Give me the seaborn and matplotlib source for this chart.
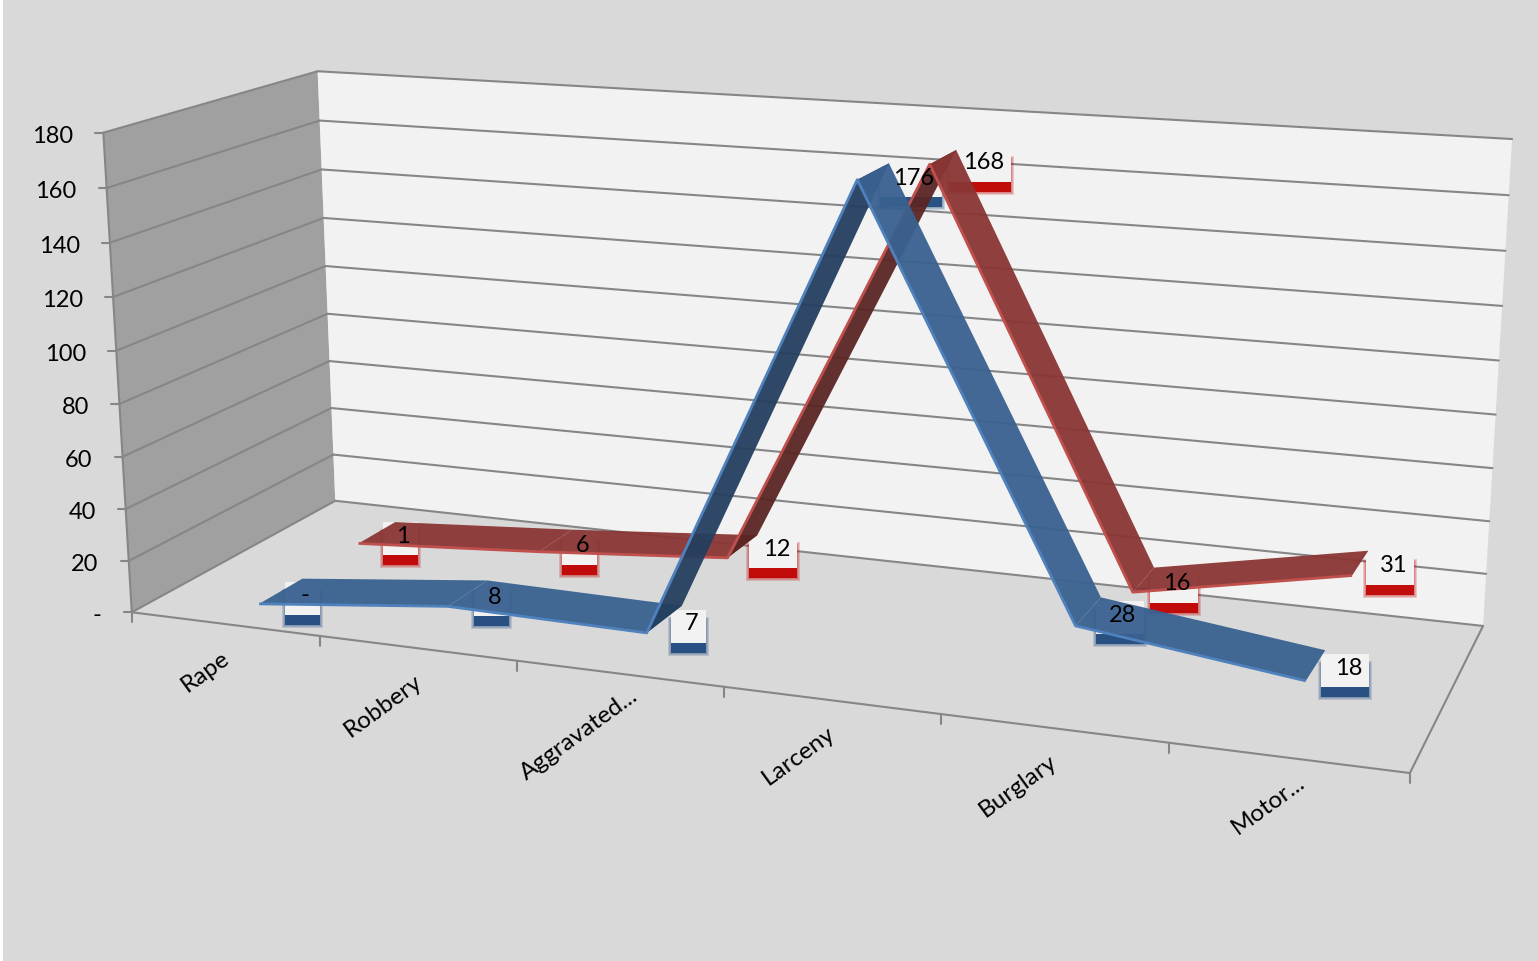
import numpy as np
import pandas as pd
import seaborn as sns
import matplotlib.pyplot as plt
from matplotlib.patches import Rectangle

# Values
categories = ['Rape', 'Robbery', 'Aggravated...', 'Larceny', 'Burglary', 'Motor...']
front_series = [0, 8, 7, 176, 28, 18]
back_series = [1, 6, 12, 168, 16, 31]
front_labels = ['-', '8', '7', '176', '28', '18']
back_labels = ['1', '6', '12', '168', '16', '31']
value_ticks = [0, 20, 40, 60, 80, 100, 120, 140, 160, 180]
value_tick_labels = ['-', '20', '40', '60', '80', '100', '120', '140', '160', '180']

# Box corners on the picture, (u, v, w) -> pixel, used to fit the camera
box_corners = [
    ((0, 0, 0), (132, 612)), ((0, 1, 0), (103, 133)),
    ((0, 1, 1), (318, 71)), ((0, 0, 1), (335, 501)),
    ((1, 0, 1), (1483, 626)), ((1, 1, 1), (1512, 139)),
    ((1, 0, 0), (1410, 773)),
]


def fit_camera(corners):
    rows = []
    for (u, v, w), (px, py) in corners:
        rows.append([u, v, w, 1, 0, 0, 0, 0, -px * u, -px * v, -px * w, -px])
        rows.append([0, 0, 0, 0, u, v, w, 1, -py * u, -py * v, -py * w, -py])
    return np.linalg.svd(np.array(rows, dtype=float))[2][-1].reshape(3, 4)


camera = fit_camera(box_corners)


def project(u, value, w):
    p = camera @ np.array([u, value / 180, w, 1.0])
    return p[0] / p[2], p[1] / p[2]


def cat_u(i):
    return (i + 0.5) / len(categories)


sns.set_theme(style='white')
plt.rcParams['font.family'] = ['Lato', 'DejaVu Sans']

fig = plt.figure(figsize=(15.38, 9.61), dpi=100, facecolor='white')
ax = fig.add_axes([0, 0, 1, 1])
ax.add_patch(Rectangle((3, 0), 1535, 961, color='#D9D9D9', lw=0, zorder=0))

GRID = '#868686'

# walls
ax.fill(*zip(project(0, 0, 0), project(0, 180, 0), project(0, 180, 1), project(0, 0, 1)),
        color='#A0A0A0', lw=0, zorder=1)
ax.fill(*zip(project(0, 0, 1), project(0, 180, 1), project(1, 180, 1), project(1, 0, 1)),
        color='#F2F2F2', lw=0, zorder=1)

# gridlines, box edges and tick marks
rows = []
def add_line(name, a, b):
    rows.append({'line': name, 'order': 0, 'sx': a[0], 'sy': a[1]})
    rows.append({'line': name, 'order': 1, 'sx': b[0], 'sy': b[1]})


for t in value_ticks:
    add_line(f'left{t}', project(0, t, 0), project(0, t, 1))
    add_line(f'back{t}', project(0, t, 1), project(1, t, 1))
    fx, fy = project(0, t, 0)
    add_line(f'vtick{t}', (fx - 8, fy), (fx, fy))
    ax.text(fx - 30, fy + 3.5, value_tick_labels[t // 20], ha='right', va='center',
            fontsize=17, color='black')
add_line('front', project(0, 0, 0), project(1, 0, 0))
add_line('side', project(1, 0, 0), project(1, 0, 1))
add_line('corner', project(0, 0, 0), project(0, 180, 0))
for i in range(len(categories) + 1):
    fx, fy = project(i / len(categories), 0, 0)
    add_line(f'ctick{i}', (fx, fy), (fx, fy + 10))
frame = pd.DataFrame(rows)
sns.lineplot(data=frame, x='sx', y='sy', units='line', estimator=None, sort=False,
             color=GRID, lw=1.5, ax=ax, zorder=1.5)

# the two cut-off names sit a bit further along their slant
name_nudges = [(2, 32), (3, 31), (17, 20), (2, 31), (1, 31), (15, 22)]
for i, name in enumerate(categories):
    fx, fy = project(cat_u(i), 0, 0)
    ax.text(fx + name_nudges[i][0], fy + name_nudges[i][1], name, rotation=36,
            rotation_mode='anchor', ha='right', va='center', fontsize=17.5, color='black')


def label_box(cx, cy, text, shadow):
    half = {1: 17.5, 2: 24, 3: 31}[len(text)]
    cx = cx - 3  # the number sits right of the box centre
    # soft glow, then the solid strip that shows under the box
    for grow in (3, 2, 1):
        ax.add_patch(Rectangle((cx - half - grow, cy - 14 + 10 - grow), 2 * half + 2 * grow,
                               33 + 2 * grow, color=shadow, alpha=0.18, lw=0, zorder=2))
    ax.add_patch(Rectangle((cx - half, cy - 14 + 10), 2 * half, 33, color=shadow, alpha=0.9,
                           lw=0, zorder=2))
    ax.add_patch(Rectangle((cx - half, cy - 14), 2 * half, 33, color='#F2F2F2', lw=0, zorder=2.1))


def draw_series(values, labels, w0, w1, top, under, edge, shadow, nudges):
    for i, (val, text) in enumerate(zip(values, labels)):
        bx, by = project(cat_u(i), val, w1)
        cx, cy = bx + nudges[i][0], by + nudges[i][1]
        label_box(cx, cy, text, shadow)
        ax.text(cx, cy, text, ha='center', va='center', fontsize=17, color='black', zorder=5)
    for i in range(len(values) - 1):
        quad = [project(cat_u(i), values[i], w0), project(cat_u(i + 1), values[i + 1], w0),
                project(cat_u(i + 1), values[i + 1], w1), project(cat_u(i), values[i], w1)]
        xs, ys = zip(*quad)
        # seen from below when the quad flips on screen
        area = sum(xs[k] * ys[(k + 1) % 4] - xs[(k + 1) % 4] * ys[k] for k in range(4))
        ax.fill(xs, ys, color=top if area < 0 else under, alpha=0.95, lw=0, zorder=3)
    edge_pts = [project(cat_u(i), v, w0) for i, v in enumerate(values)]
    edges = pd.DataFrame({'sx': [p[0] for p in edge_pts], 'sy': [p[1] for p in edge_pts]})
    sns.lineplot(data=edges, x='sx', y='sy', estimator=None, sort=False, color=edge, lw=2.0,
                 solid_capstyle='butt', ax=ax, zorder=3)


back_nudges = [(8, 14), (10, 16), (19, 14), (27, 13), (23, 16), (25, 15)]
front_nudges = [(3, 17), (7, 17), (10, 18), (25, 15), (22, 18), (23, 18)]
draw_series(back_series, back_labels, 0.66, 0.86, '#8A3634', '#5A2524', '#C0504D', '#C00000', back_nudges)
draw_series(front_series, front_labels, 0.16, 0.37, '#396190', '#243F5F', '#4F81BD', '#1F497D', front_nudges)

ax.set_xlim(0, 1538)
ax.set_ylim(961, 0)
ax.set_axis_off()
fig.savefig('out.png', dpi=100, facecolor=fig.get_facecolor())
